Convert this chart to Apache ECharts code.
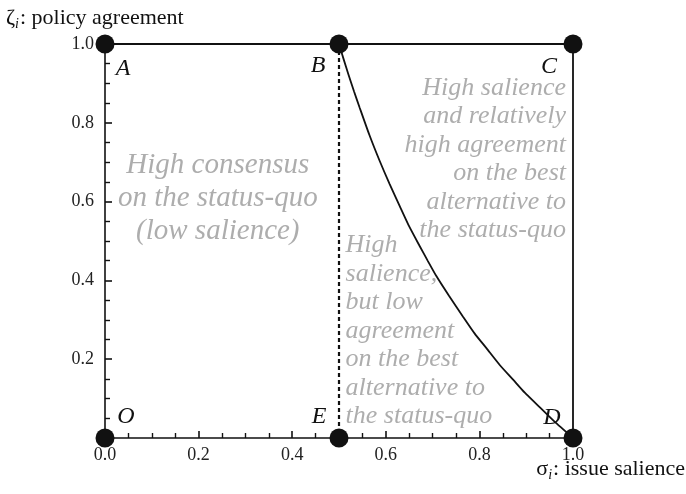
<!DOCTYPE html>
<html>
<head>
<meta charset="utf-8">
<script src="https://cdn.jsdelivr.net/npm/echarts@6/dist/echarts.min.js"></script>
<style>
html,body{margin:0;padding:0;background:#fff;}
#chart{width:686px;height:494px;}
</style>
</head>
<body>
<div id="chart"></div>
<script>
// ---- data ----
const pointNames = ['O', 'A', 'B', 'C', 'D', 'E'];
const pointX = [0, 0, 0.5, 1, 1, 0.5];
const pointY = [0, 1, 1, 1, 0, 0];

const boundaryX = [0, 1, 1];
const boundaryY = [1, 1, 0];

const dividerX = [0.5, 0.5];
const dividerY = [1, 0];

const curveX = [0.5, 0.51, 0.52, 0.532, 0.544, 0.565, 0.587, 0.608, 0.630, 0.650, 0.672, 0.690, 0.708, 0.735, 0.765, 0.790, 0.815, 0.843, 0.872, 0.897, 0.922, 0.960, 1.0];
const curveY = [1.0, 0.961, 0.923, 0.880, 0.839, 0.769, 0.703, 0.645, 0.588, 0.537, 0.488, 0.449, 0.411, 0.361, 0.308, 0.265, 0.228, 0.186, 0.148, 0.115, 0.086, 0.042, 0.0];

const xTickLabels = ['0.0', '0.2', '0.4', '0.6', '0.8', '1.0'];
const yTickLabels = ['', '0.2', '0.4', '0.6', '0.8', '1.0'];

const regionLeftText = ['High consensus', 'on the status-quo', '(low salience)'];
const regionMiddleText = ['High', 'salience,', 'but low', 'agreement', 'on the best', 'alternative to', 'the status-quo'];
const regionRightText = ['High salience', 'and relatively', 'high agreement', 'on the best', 'alternative to', 'the status-quo'];

// ---- chart ----
const SERIF = 'Liberation Serif';
const GRAY = '#999999';
const INK = '#111';
const chart = echarts.init(document.getElementById('chart'), null, {renderer: 'canvas'});

const pairs = (xs, ys) => xs.map((x, i) => [x, ys[i]]);

const letterOffsets = {
  O: [21, -21], A: [18, 25], B: [-21, 22], C: [-24, 23], D: [-21, -20], E: [-20, -21]
};

const regionLabel = (lines, align, lh, size) => ({
  show: true,
  position: 'inside',
  formatter: lines.join('\n'),
  fontFamily: SERIF,
  fontStyle: 'italic',
  fontWeight: 'normal',
  fontSize: size,
  lineHeight: lh,
  color: GRAY,
  align: align,
  verticalAlign: 'middle'
});

const nameRich = {
  z: {fontFamily: SERIF, fontSize: 22, fontWeight: 'normal', color: INK, lineHeight: 26},
  s: {fontFamily: SERIF, fontSize: 14, fontStyle: 'italic', fontWeight: 'normal', color: INK, lineHeight: 26, verticalAlign: 'bottom', padding: [10, 1, 0, 0]},
  n: {fontFamily: SERIF, fontSize: 22, fontWeight: 'normal', color: INK, lineHeight: 26}
};

const axisCommon = {
  type: 'value', min: 0, max: 1, interval: 0.2,
  axisLine: {show: true, onZero: false, lineStyle: {color: INK, width: 1.6}},
  axisTick: {show: true, inside: true, length: 7, lineStyle: {color: INK, width: 1.6}},
  minorTick: {show: true, splitNumber: 4, length: 5, lineStyle: {color: INK, width: 1.4}},
  splitLine: {show: false}
};

const option = {
  animation: false,
  backgroundColor: '#fff',
  title: [
    {
      text: '{z|ζ}{s|i}{n|: policy agreement}',
      left: 6, top: 5, padding: 0,
      textStyle: {fontWeight: 'normal', rich: nameRich}
    },
    {
      text: '{z|σ}{s|i}{n|: issue salience}',
      right: 1, top: 456, padding: 0,
      textStyle: {fontWeight: 'normal', rich: nameRich}
    }
  ],
  grid: {left: 105, right: 113, top: 44, bottom: 56, containLabel: false},
  xAxis: Object.assign({}, axisCommon, {
    axisLabel: {
      margin: 8, fontFamily: SERIF, fontSize: 18, color: '#222',
      formatter: (v) => xTickLabels[Math.round(v / 0.2)]
    }
  }),
  yAxis: Object.assign({}, axisCommon, {
    axisLabel: {
      margin: 11, fontFamily: SERIF, fontSize: 18, color: '#222',
      formatter: (v) => yTickLabels[Math.round(v / 0.2)]
    }
  }),
  series: [
    {
      type: 'line', data: pairs(boundaryX, boundaryY), symbol: 'none', clip: false,
      lineStyle: {color: INK, width: 1.8}
    },
    {
      type: 'line', data: pairs(dividerX, dividerY), symbol: 'none', clip: false,
      lineStyle: {color: INK, width: 2.2, type: [4, 3]}
    },
    {
      type: 'line', data: pairs(curveX, curveY), symbol: 'none', smooth: 0.2, clip: false,
      lineStyle: {color: INK, width: 1.8}
    },
    {
      type: 'scatter', clip: false, symbolSize: 19, z: 5,
      itemStyle: {color: INK, opacity: 1},
      data: pointNames.map((n, i) => ({
        value: [pointX[i], pointY[i]],
        label: {
          show: true, position: 'inside', offset: letterOffsets[n],
          formatter: n, fontFamily: SERIF, fontStyle: 'italic', fontSize: 24, color: INK
        }
      }))
    },
    {
      type: 'scatter', symbolSize: 0, silent: true,
      data: [[0.241, 0.607]],
      label: regionLabel(regionLeftText, 'center', 33, 29)
    },
    {
      type: 'scatter', symbolSize: 0, silent: true,
      data: [[0.514, 0.272]],
      label: regionLabel(regionMiddleText, 'left', 28.5, 26)
    },
    {
      type: 'scatter', symbolSize: 0, silent: true,
      data: [[0.985, 0.708]],
      label: regionLabel(regionRightText, 'right', 28.5, 26)
    }
  ]
};

chart.setOption(option);
</script>
</body>
</html>
